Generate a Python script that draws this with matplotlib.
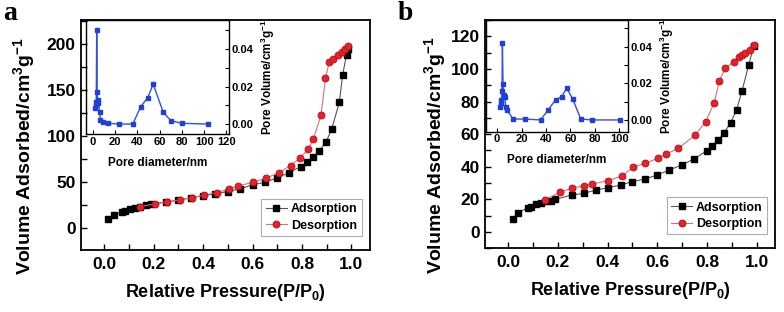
import matplotlib
matplotlib.use('Agg')
import matplotlib.pyplot as plt
from matplotlib.ticker import MultipleLocator

plt.rcParams['font.family'] = 'Liberation Sans'
plt.rcParams['font.weight'] = 'bold'
plt.rcParams['mathtext.fontset'] = 'custom'
plt.rcParams['mathtext.rm'] = 'Liberation Sans:bold'
plt.rcParams['mathtext.it'] = 'Liberation Sans:bold'
plt.rcParams['mathtext.bf'] = 'Liberation Sans:bold'

# ---- panel a: isotherm ----
ads_x_a = [0.017, 0.038, 0.072, 0.085, 0.105, 0.125, 0.145, 0.168, 0.189, 0.25, 0.30, 0.35, 0.40, 0.45,
           0.50, 0.55, 0.60, 0.65, 0.697, 0.749, 0.795, 0.822, 0.846, 0.87, 0.897, 0.92, 0.951, 0.964,
           0.98, 0.988]
ads_y_a = [9.8, 14.2, 17.8, 18.9, 20.7, 22.1, 23.2, 25.0, 26.1, 28.0, 30.3, 32.8, 35.0, 37.2,
           39.5, 42.6, 46.8, 49.7, 54.1, 60.2, 66.7, 71.5, 77.0, 84.0, 93.2, 107.4, 136.4, 165.8,
           188.0, 195.0]
des_x_a = [0.145, 0.206, 0.256, 0.307, 0.357, 0.404, 0.455, 0.505, 0.543, 0.603, 0.655, 0.707,
           0.754, 0.792, 0.825, 0.846, 0.877, 0.895, 0.91, 0.925, 0.945, 0.96, 0.975, 0.987]
des_y_a = [23.2, 26.1, 28.3, 30.5, 33.0, 35.6, 38.5, 42.1, 45.7, 49.7, 54.1, 60.2,
           67.8, 75.9, 85.6, 96.5, 122.6, 163.0, 180.0, 184.0, 188.0, 191.0, 195.0, 198.0]

# ---- panel a: pore size distribution (inset) ----
pore_d_a = [2.0, 2.6, 3.2, 3.6, 4.0, 4.5, 5.2, 6.2, 7.0, 9.3, 13.8, 23.5, 36.0, 43.0, 49.3,
            54.3, 63.3, 70.2, 80.0, 103.5]
pore_v_a = [0.0085, 0.0100, 0.0120, 0.0500, 0.0170, 0.0128, 0.0110, 0.0066, 0.0021, 0.0012,
            0.0004, 0.0, 0.0, 0.0092, 0.0140, 0.0213, 0.0062, 0.0018, 0.0004, 0.0]

# ---- panel b: isotherm ----
ads_x_b = [0.02, 0.04, 0.078, 0.092, 0.11, 0.13, 0.15, 0.172, 0.19, 0.255, 0.305, 0.354, 0.403,
           0.453, 0.497, 0.55, 0.60, 0.648, 0.698, 0.748, 0.799, 0.819, 0.845, 0.869, 0.895, 0.919,
           0.941, 0.968, 0.988]
ads_y_b = [7.8, 11.8, 14.9, 15.5, 17.2, 18.0, 18.8, 19.2, 20.0, 22.7, 23.7, 25.8, 27.2,
           28.8, 30.8, 32.5, 35.0, 38.0, 41.1, 44.8, 49.8, 52.7, 56.4, 60.9, 67.0, 74.8,
           86.6, 102.4, 114.0]
des_x_b = [0.147, 0.207, 0.255, 0.306, 0.338, 0.403, 0.456, 0.503, 0.55, 0.604, 0.635, 0.685,
           0.752, 0.795, 0.829, 0.85, 0.874, 0.907, 0.927, 0.941, 0.954, 0.974, 0.988]
des_y_b = [19.6, 24.3, 26.8, 28.4, 29.4, 31.5, 34.3, 39.7, 42.1, 45.2, 47.8, 51.3,
           59.5, 67.6, 79.3, 92.8, 100.4, 104.4, 107.1, 108.5, 110.0, 111.6, 114.5]

# ---- panel b: pore size distribution (inset) ----
pore_d_b = [2.2, 3.0, 3.6, 4.1, 4.4, 4.9, 5.5, 6.3, 7.1, 8.2, 13.1, 22.7, 35.6, 41.8, 47.9,
            52.8, 56.9, 61.8, 68.4, 77.9, 100.6]
pore_v_b = [0.0070, 0.0090, 0.0110, 0.0160, 0.0420, 0.0195, 0.0136, 0.0124, 0.0073, 0.0055,
            0.0005, 0.0005, 0.0, 0.0055, 0.0110, 0.0127, 0.0173, 0.0115, 0.0005, 0.0, 0.0]

W, H = 784, 312


def box(l, t, r, b):
    return [l / W, 1 - b / H, (r - l) / W, (b - t) / H]


def style_ticks(ax, size):
    ax.tick_params(direction='in', which='both', labelsize=size, width=1.0)
    ax.tick_params(which='major', length=4)
    ax.tick_params(which='minor', length=4)
    for s in ax.spines.values():
        s.set_linewidth(1.3)


def draw_main(ax, ax_, ay_, dx_, dy_, ylim, ymaj, ymin, ylab_xy):
    ax.plot(ax_, ay_, color='#555555', lw=0.8, marker='s', ms=4.0, mfc='black', mec='black',
            label='Adsorption')
    ax.plot(dx_, dy_, color='#e26a80', lw=0.8, marker='o', ms=5.0, mfc='#e8202a', mec='#b01010',
            mew=0.6, label='Desorption')
    ax.set_xlim(-0.095, 1.075)
    ax.set_ylim(*ylim)
    ax.xaxis.set_major_locator(MultipleLocator(0.2))
    ax.xaxis.set_minor_locator(MultipleLocator(0.1))
    ax.yaxis.set_major_locator(MultipleLocator(ymaj))
    ax.yaxis.set_minor_locator(MultipleLocator(ymin))
    style_ticks(ax, 12.5)
    ax.tick_params(axis='x', pad=5)
    ax.set_xlabel(r'Relative Pressure(P/P$_0$)', fontsize=13, fontweight='bold', labelpad=7)
    ax.set_ylabel(r'Volume Adsorbed/cm$^3$g$^{-1}$', fontsize=14, fontweight='bold')
    ax.yaxis.set_label_coords(*ylab_xy)
    leg = ax.legend(loc='lower right', bbox_to_anchor=(0.98, 0.05), fontsize=9, frameon=True,
                    fancybox=False, edgecolor='#999999', handlelength=1.7, borderpad=0.35,
                    labelspacing=0.35, handletextpad=0.3, borderaxespad=0.2)
    leg.get_frame().set_linewidth(0.8)


def draw_inset(ax, d, v, xlim, xmax_tick, ylim):
    ax.plot(d, v, color='#3050e0', lw=1.0, marker='s', ms=3.2, mfc='#2040d8', mec='#2040d8')
    ax.set_xlim(*xlim)
    ax.set_ylim(*ylim)
    ax.set_xticks(list(range(0, xmax_tick + 1, 20)))
    ax.yaxis.tick_right()
    ax.yaxis.set_label_position('right')
    ax.yaxis.set_major_locator(MultipleLocator(0.02))
    ax.yaxis.set_minor_locator(MultipleLocator(0.01))
    ax.yaxis.set_major_formatter(matplotlib.ticker.FormatStrFormatter('%.2f'))
    ax.tick_params(direction='in', which='both', labelsize=8, width=0.8, length=3, pad=2)
    for s in ax.spines.values():
        s.set_linewidth(1.0)
    ax.patch.set_alpha(0.0)
    ax.set_xlabel('Pore diameter/nm', fontsize=8.5, fontweight='bold', labelpad=7)
    ax.set_ylabel(r'Pore Volume/cm$^3$g$^{-1}$', fontsize=8.5, fontweight='bold', labelpad=4)


fig = plt.figure(figsize=(W / 100, H / 100), dpi=100)

ax_a = fig.add_axes(box(80.7, 20, 370, 250))
draw_main(ax_a, ads_x_a, ads_y_a, des_x_a, des_y_a, (-24, 226), 50, 25, (-0.15, 0.41))
in_a = fig.add_axes(box(86, 20, 228.7, 134))
draw_inset(in_a, pore_d_a, pore_v_a, (-6, 122), 120, (-0.0053, 0.0555))

ax_b = fig.add_axes(box(484.7, 20, 775.3, 248.3))
draw_main(ax_b, ads_x_b, ads_y_b, des_x_b, des_y_b, (-10, 130), 20, 10, (-0.125, 0.41))
in_b = fig.add_axes(box(486, 20, 628, 131.7))
draw_inset(in_b, pore_d_b, pore_v_b, (-9, 107), 100, (-0.0064, 0.0545))

fig.text(3 / W, 1 - 13 / H, 'a', fontsize=20, fontweight='bold', family='Liberation Serif', va='center')
fig.text(398 / W, 1 - 13 / H, 'b', fontsize=20, fontweight='bold', family='Liberation Serif', va='center')

fig.savefig('out.png', dpi=100)
